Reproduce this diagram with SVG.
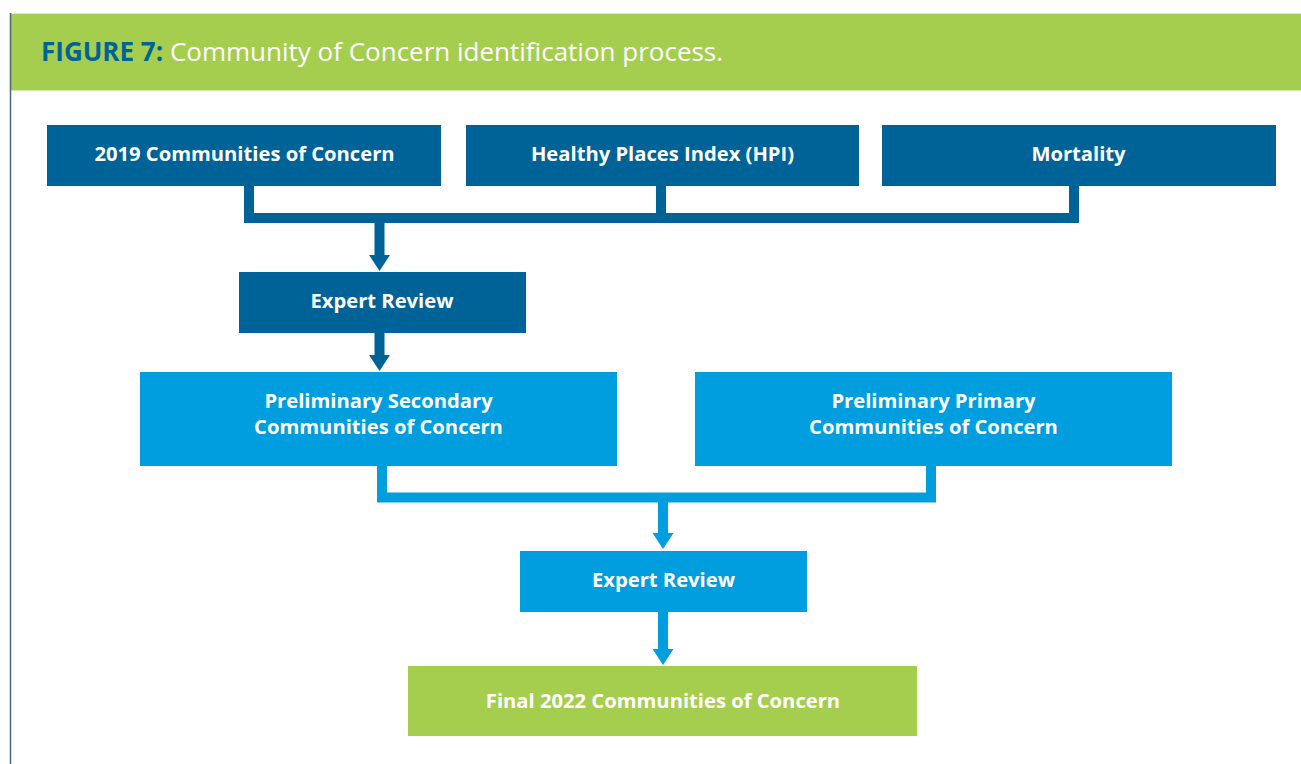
<svg xmlns="http://www.w3.org/2000/svg" width="1301" height="764" viewBox="0 0 1301 764">
<style>
.dark{fill:#006398}
.light{fill:#009EDF}
.green{fill:#A5CE4F}
.lbl{font-family:"Open Sans","Liberation Sans",sans-serif;font-weight:700;font-size:20.2px;fill:#ffffff;text-anchor:middle}
.cd{fill:none;stroke:#006398;stroke-width:10;stroke-linejoin:miter}
.cl{fill:none;stroke:#009EDF;stroke-width:10;stroke-linejoin:miter}
</style>
<defs>
<marker id="ahD" markerUnits="userSpaceOnUse" markerWidth="17" markerHeight="22" refX="0" refY="10.5" orient="auto" overflow="visible"><path d="M0,0 L16,10.5 L0,21 Z" fill="#006398"/></marker>
<marker id="ahL" markerUnits="userSpaceOnUse" markerWidth="17" markerHeight="22" refX="0" refY="10.5" orient="auto" overflow="visible"><path d="M0,0 L16,10.5 L0,21 Z" fill="#009EDF"/></marker>
</defs>
<rect width="1301" height="764" fill="#ffffff"/>
<g id="header">
<rect x="10" y="13" width="1291" height="1" fill="#dfe3e6"/>
<rect x="10" y="14" width="1291" height="76.5" class="green"/>
<line x1="10.5" y1="13" x2="10.5" y2="764" stroke="#4d6680" stroke-width="1.5"/>
<text x="41" y="60.5" font-family="'Open Sans','Liberation Sans',sans-serif" font-size="26px"><tspan font-weight="700" fill="#006398">FIGURE 7:</tspan><tspan fill="#ffffff"> Community of Concern identification process.</tspan></text>
</g>
<g id="connectors">
<path class="cd" d="M249,186 V218 H1074 V186"/>
<path class="cd" d="M661,186 V218"/>
<path class="cd" d="M379.5,218 V255" marker-end="url(#ahD)"/>
<path class="cd" d="M379.5,333 V355" marker-end="url(#ahD)"/>
<path class="cl" d="M382,466 V497.5 H931 V466"/>
<path class="cl" d="M663,497.5 V533" marker-end="url(#ahL)"/>
<path class="cl" d="M663,612 V649" marker-end="url(#ahL)"/>
</g>
<g id="n2019"><rect x="47" y="125" width="394" height="61" class="dark"/><text x="244.5" y="161" class="lbl">2019 Communities of Concern</text></g>
<g id="nHPI"><rect x="466" y="125" width="393" height="61" class="dark"/><text x="662.5" y="161" class="lbl">Healthy Places Index (HPI)</text></g>
<g id="nMortality"><rect x="882" y="125" width="394" height="61" class="dark"/><text x="1078.5" y="161" class="lbl">Mortality</text></g>
<g id="nExpert1"><rect x="239" y="272" width="287" height="61" class="dark"/><text x="382" y="308" class="lbl">Expert Review</text></g>
<g id="nSecondary"><rect x="140" y="372" width="477" height="94" class="light"/><text x="378.5" y="408" class="lbl">Preliminary Secondary</text><text x="378.5" y="434" class="lbl">Communities of Concern</text></g>
<g id="nPrimary"><rect x="695" y="372" width="477" height="94" class="light"/><text x="933.5" y="408" class="lbl">Preliminary Primary</text><text x="933.5" y="434" class="lbl">Communities of Concern</text></g>
<g id="nExpert2"><rect x="520" y="551" width="287" height="61" class="light"/><text x="663.5" y="587" class="lbl">Expert Review</text></g>
<g id="nFinal"><rect x="408" y="666" width="509" height="70" class="green"/><text x="663" y="708" class="lbl">Final 2022 Communities of Concern</text></g>
</svg>
